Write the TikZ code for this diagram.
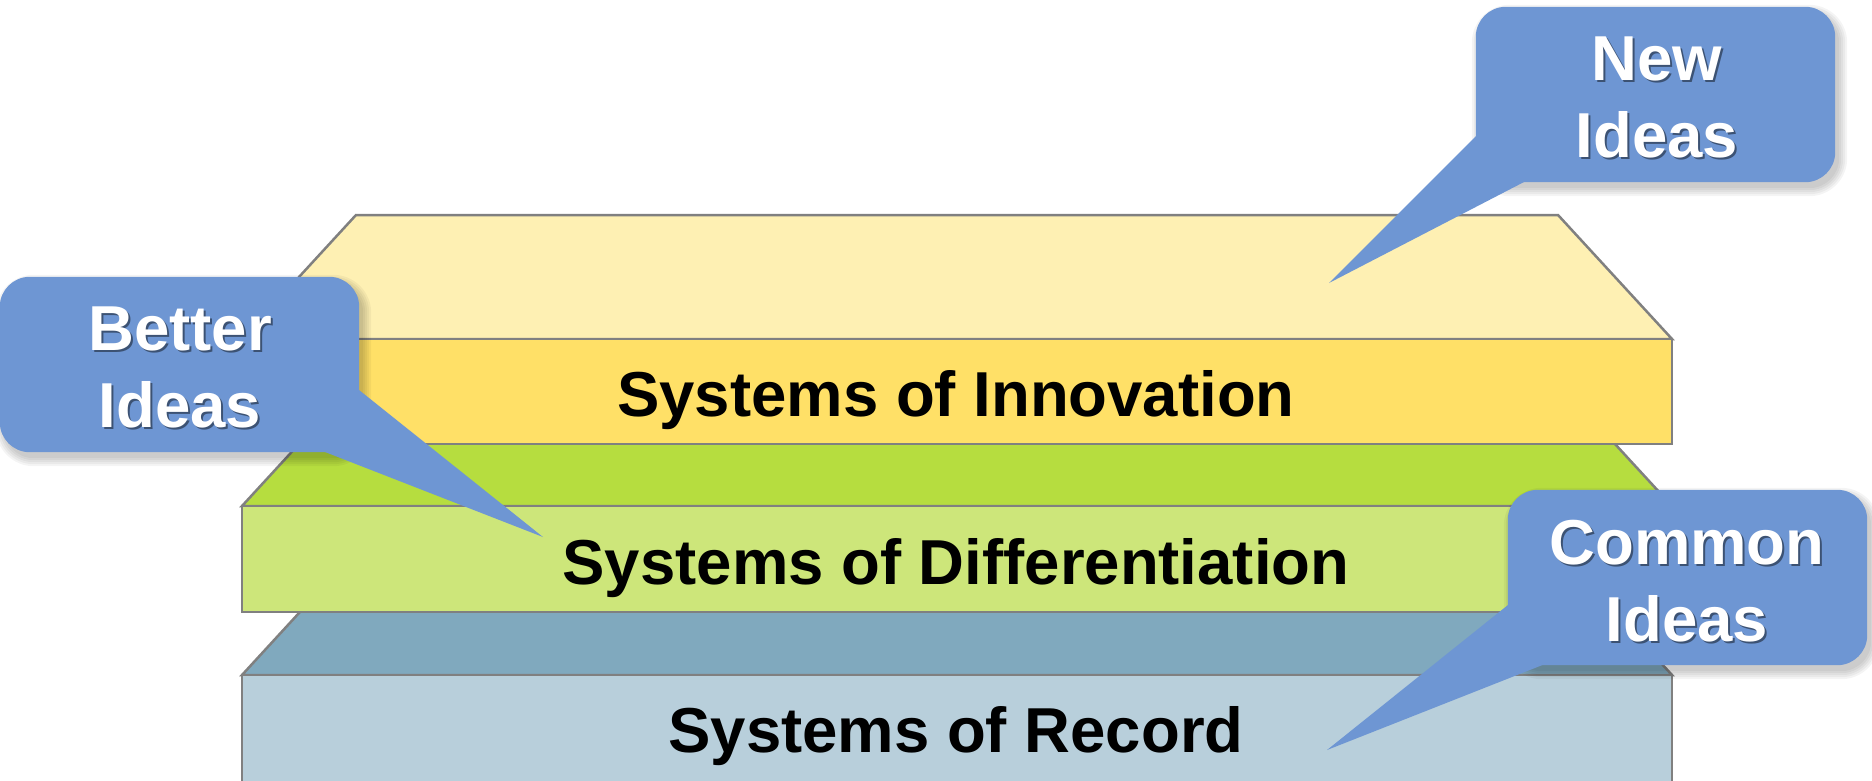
\documentclass[tikz,border=0pt]{standalone}
\usepackage{fontspec}
\setmainfont{Liberation Sans}
\usetikzlibrary{calc}
\definecolor{edgegray}{HTML}{808080}
\definecolor{ytop}{HTML}{FEF0B3}
\definecolor{yfront}{HTML}{FFE067}
\definecolor{gtop}{HTML}{B6DD3F}
\definecolor{gfront}{HTML}{CDE67A}
\definecolor{btop}{HTML}{80A9BE}
\definecolor{bfront}{HTML}{B8CFDB}
\definecolor{callblue}{HTML}{6E96D3}
\newcommand{\softshadow}[1]{%
  \foreach \k in {0,2,4,6,8}{%
    \fill[black, opacity=0.045, rounded corners=30pt+\k pt]
      ($(#1.south west)+(4-\k,6+\k)$) rectangle ($(#1.north east)+(4+\k,6-\k)$);
  }}
\begin{document}
\begin{tikzpicture}[x=1pt,y=-1pt,
  face/.style={draw=edgegray, line width=2.5pt, line join=miter},
  layertext/.style={font=\bfseries\fontsize{63.5}{76}\selectfont, text=black, anchor=base, inner sep=0pt},
  callbox/.style={rounded corners=30pt, minimum width=359pt, minimum height=175pt, inner sep=0pt},
  callfill/.style={fill=callblue},
  calltext/.style={font=\bfseries\fontsize{63.5}{76}\selectfont, text=white, anchor=base, inner sep=0pt},
  callshade/.style={font=\bfseries\fontsize{63.5}{76}\selectfont, text=black, text opacity=0.45, anchor=base, inner sep=0pt}
]
\useasboundingbox (0,0) rectangle (1872,780);
\clip (0,0) rectangle (1872,780);

% Systems of Record (blue)
\draw[face, fill=btop] (356,551) -- (1558,551) -- (1672,675) -- (242,675) -- cycle;
\draw[face, fill=bfront] (242,675) rectangle (1672,800);
\node[layertext] (record) at (956,752) {Systems of Record};

% Systems of Differentiation (green)
\draw[face, fill=gtop] (356,382) -- (1558,382) -- (1672,506) -- (242,506) -- cycle;
\draw[face, fill=gfront] (242,506) rectangle (1672,612);
\node[layertext] (diff) at (956,584) {Systems of Differentiation};

% Systems of Innovation (yellow)
\draw[face, fill=ytop] (356,215) -- (1558,215) -- (1672,339) -- (242,339) -- cycle;
\draw[face, fill=yfront] (242,339) rectangle (1672,444);
\node[layertext] (innov) at (956,416) {Systems of Innovation};

% Callout boxes (positions)
\node[callbox] (better) at (179.5,364.5) {};
\node[callbox] (new) at (1655.5,94.5) {};
\node[callbox] (common) at (1687.5,577.5) {};

% Callout: Better Ideas
\softshadow{better}
\fill[callfill, rounded corners=30pt] (better.south west) rectangle (better.north east);
\coordinate (bettertip) at (543,537);
\fill[callfill] (359,390) -- (bettertip) -- (325,452) -- (320,420) -- cycle;
\node[callshade] at (182,352) {Better};
\node[calltext] (betterA) at (180,350) {Better};
\node[callshade] at (182,429) {Ideas};
\node[calltext] (betterB) at (180,427) {Ideas};

% Callout: New Ideas
\softshadow{new}
\fill[callfill, rounded corners=30pt] (new.south west) rectangle (new.north east);
\coordinate (newtip) at (1329,283);
\fill[callfill] (1476,136) -- (newtip) -- (1524,182) -- (1500,150) -- cycle;
\node[callshade] at (1659,82) {New};
\node[calltext] (newA) at (1657,80) {New};
\node[callshade] at (1659,159) {Ideas};
\node[calltext] (newB) at (1657,157) {Ideas};

% Callout: Common Ideas
\softshadow{common}
\fill[callfill, rounded corners=30pt] (common.south west) rectangle (common.north east);
\coordinate (commontip) at (1327,750);
\fill[callfill] (1508,605) -- (commontip) -- (1545,664) -- (1530,630) -- cycle;
\node[callshade] at (1689,566) {Common};
\node[calltext] (commonA) at (1687,564) {Common};
\node[callshade] at (1689,643) {Ideas};
\node[calltext] (commonB) at (1687,641) {Ideas};
\end{tikzpicture}
\end{document}
